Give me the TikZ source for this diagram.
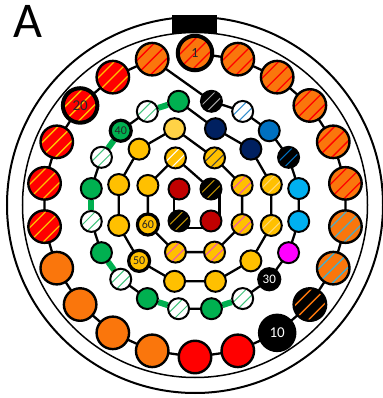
\documentclass[tikz,border=0pt]{standalone}
\usepackage{fontspec}
\setmainfont{Carlito}
\usepackage{xcolor}
\usepackage{tikz}
\usetikzlibrary{backgrounds}

\definecolor{pinorange}{RGB}{250,118,12}
\definecolor{pinred}{RGB}{255,0,0}
\definecolor{pindarkred}{RGB}{192,0,0}
\definecolor{pinyellow}{RGB}{255,192,0}
\definecolor{pinltyellow}{RGB}{255,210,70}
\definecolor{pinpale}{RGB}{255,218,120}
\definecolor{pingreen}{RGB}{0,176,80}
\definecolor{pinnavy}{RGB}{0,32,96}
\definecolor{pinblue}{RGB}{0,112,192}
\definecolor{pinsky}{RGB}{0,176,240}
\definecolor{pinmagenta}{RGB}{255,0,255}
\definecolor{pinteal}{RGB}{75,172,198}
\definecolor{pinpink}{RGB}{240,90,170}
\definecolor{pingold}{RGB}{190,145,0}

\tikzset{
  pn_out/.style={
    draw, circle, fill=pinorange, line width=2.4pt,
    minimum size=32.5pt, inner sep=0pt
  },
  pn_out_lbl/.style={
    pn_out, line width=4pt, minimum size=34.5pt,
    font=\fontsize{15}{15}\selectfont, text=black!85
  },
  pn_in/.style={
    draw, circle, line width=2pt,
    minimum size=21pt, inner sep=0pt
  },
  pn_in_lbl/.style={
    pn_in, line width=3.2pt, minimum size=21pt,
    font=\fontsize{12}{12}\selectfont, text=black!85
  },
  pn_str/.style={path picture={
    \foreach \s in {-28,-14,0,14,28}
      \draw[#1, line width=1.3pt]
        ([xshift=\s*1pt]path picture bounding box.south west) --
        ([xshift=\s*1pt]path picture bounding box.north east);
  }},
  pn_istr/.style={path picture={
    \foreach \s in {-17,-5.7,5.7,17}
      \draw[#1, line width=1pt]
        ([xshift=\s*1pt]path picture bounding box.south west) --
        ([xshift=\s*1pt]path picture bounding box.north east);
  }},
  pn_wire/.style={line width=2.3pt, line join=round},
  pn_pair/.style={line width=6pt, pingreen},
}

\begin{document}
\begin{tikzpicture}[x=1pt, y=1pt]
\useasboundingbox (-195,-193) rectangle (187,205);

% Housing
\draw[line width=2pt] (0,0) circle (188);
\draw[line width=1.5pt] (0,0) circle (172.5);
\fill[black] (-23,172) rectangle (22,190);
\node[font=\fontsize{50}{50}\selectfont] (lblA) at (-167,184) {A};

% Outer ring
\node[pn_out_lbl, pn_str=pinred, font=\fontsize{14}{14}\selectfont] (p1) at (90:152) {1};
\node[pn_out, pn_str=pinred]  (p2)  at (73.64:152)  {};
\node[pn_out, pn_str=pinred]  (p3)  at (57.27:152)  {};
\node[pn_out, pn_str=pinred]  (p4)  at (40.91:152)  {};
\node[pn_out, pn_str=pinred]  (p5)  at (24.55:152)  {};
\node[pn_out, pn_str=pinred]  (p6)  at (8.18:152)   {};
\node[pn_out, pn_str=pinteal] (p7)  at (-8.18:152)  {};
\node[pn_out, pn_str=pinteal] (p8)  at (-24.55:152) {};
\node[pn_out, fill=black, pn_str=pinorange] (p9) at (-40.91:152) {};
\node[pn_out_lbl, fill=black, text=white]    (p10) at (-57.27:152) {10};
\node[pn_out, fill=pinred]    (p11) at (-73.64:152)  {};
\node[pn_out, fill=pinred]    (p12) at (-90:152)     {};
\node[pn_out]                 (p13) at (-106.36:152) {};
\node[pn_out]                 (p14) at (-122.73:152) {};
\node[pn_out]                 (p15) at (-139.09:152) {};
\node[pn_out]                 (p16) at (-155.45:152) {};
\node[pn_out, fill=pinred, pn_str=pinyellow] (p17) at (-171.82:152) {};
\node[pn_out, fill=pinred, pn_str=pinyellow] (p18) at (171.82:152)  {};
\node[pn_out, fill=pinred, pn_str=pinyellow] (p19) at (155.45:152)  {};
\node[pn_out_lbl, fill=pinred, pn_str=pinyellow] (p20) at (139.09:152) {20};
\node[pn_out, fill=pinred, pn_str=pinyellow] (p21) at (122.73:152)  {};
\node[pn_out, pn_str=pinred]  (p22) at (106.36:152) {};

% Second ring
\node[pn_in, fill=black, pn_istr=gray!70]    (p23) at (81:105)  {};
\node[pn_in, fill=white, pn_istr=pinblue!80] (p24) at (63:105)  {};
\node[pn_in, fill=pinblue]                   (p25) at (45:105)  {};
\node[pn_in, fill=black, pn_istr=pinblue]    (p26) at (27:105)  {};
\node[pn_in, fill=pinsky]                    (p27) at (9:105)   {};
\node[pn_in, fill=pinsky]                    (p28) at (-9:105)  {};
\node[pn_in, fill=pinmagenta]                (p29) at (-27:105) {};
\node[pn_in_lbl, fill=black, text=white, font=\fontsize{13}{13}\selectfont] (p30) at (-45:105) {30};
\node[pn_in, fill=white, pn_istr=pingreen!75] (p31) at (-63:105)  {};
\node[pn_in, fill=pingreen]                   (p32) at (-81:105)  {};
\node[pn_in, fill=white, pn_istr=pingreen!75] (p33) at (-99:105)  {};
\node[pn_in, fill=pingreen]                   (p34) at (-117:105) {};
\node[pn_in, fill=white, pn_istr=pingreen!75] (p35) at (-135:105) {};
\node[pn_in, fill=pingreen]                   (p36) at (-153:105) {};
\node[pn_in, fill=white, pn_istr=pingreen!75] (p37) at (-171:105) {};
\node[pn_in, fill=pingreen]                   (p38) at (171:105)  {};
\node[pn_in, fill=white, pn_istr=pingreen!75] (p39) at (153:105)  {};
\node[pn_in_lbl, fill=pingreen]               (p40) at (135:105)  {40};
\node[pn_in, fill=white, pn_istr=pingreen!75] (p41) at (117:105)  {};
\node[pn_in, fill=pingreen]                   (p42) at (99:105)   {};

% Third ring
\node[pn_in, fill=pinnavy]   (p43) at (75:79)   {};
\node[pn_in, fill=pinnavy]   (p44) at (45:79)   {};
\node[pn_in, fill=pinyellow, pn_istr=pinpale] (p45) at (15:79)  {};
\node[pn_in, fill=pinyellow, pn_istr=pinpale] (p46) at (-15:79) {};
\node[pn_in, fill=pinyellow] (p47) at (-45:79)  {};
\node[pn_in, fill=pinyellow] (p48) at (-75:79)  {};
\node[pn_in, fill=pinyellow] (p49) at (-105:79) {};
\node[pn_in_lbl, fill=pinyellow] (p50) at (-135:79) {50};
\node[pn_in, fill=pinyellow] (p51) at (-165:79) {};
\node[pn_in, fill=pinyellow] (p52) at (165:79)  {};
\node[pn_in, fill=pinyellow] (p53) at (135:79)  {};
\node[pn_in, fill=pinltyellow] (p54) at (105:79) {};

% Fourth ring
\node[pn_in, fill=pinyellow, pn_istr=black!75] (p55) at (67.5:51)   {};
\node[pn_in, fill=pinyellow, pn_istr=pinpink]  (p56) at (22.5:51)   {};
\node[pn_in, fill=pinyellow, pn_istr=pinpink]  (p57) at (-22.5:51)  {};
\node[pn_in, fill=pinyellow, pn_istr=pinpink]  (p58) at (-67.5:51)  {};
\node[pn_in, fill=pinyellow, pn_istr=pinpink]  (p59) at (-112.5:51) {};
\node[pn_in_lbl, fill=pinyellow]               (p60) at (-157.5:51) {60};
\node[pn_in, fill=pinyellow]                   (p61) at (157.5:51)  {};
\node[pn_in, fill=pinyellow, pn_istr=white]    (p62) at (112.5:51)  {};

% Centre
\node[pn_in, fill=black, pn_istr=pingold] (p63) at (45:22.6)   {};
\node[pn_in, fill=pindarkred]             (p64) at (-45:22.6)  {};
\node[pn_in, fill=black, pn_istr=pingold] (p65) at (-135:22.6) {};
\node[pn_in, fill=pindarkred]             (p66) at (135:22.6)  {};

\begin{scope}[on background layer]
% Wiring
\draw[pn_wire] (p1.center) -- (p2.center) -- (p3.center) -- (p4.center) -- (p5.center)
  -- (p6.center) -- (p7.center) -- (p8.center) -- (p9.center) -- (p10.center)
  -- (p11.center) -- (p12.center) -- (p13.center) -- (p14.center) -- (p15.center)
  -- (p16.center) -- (p17.center) -- (p18.center) -- (p19.center) -- (p20.center)
  -- (p21.center) -- (p22.center) -- (p23.center);
\draw[pn_wire] (p23.center) -- (p24.center) -- (p25.center) -- (p26.center) -- (p27.center)
  -- (p28.center) -- (p29.center) -- (p30.center) -- (p31.center) -- (p32.center)
  -- (p33.center) -- (p34.center) -- (p35.center) -- (p36.center) -- (p37.center)
  -- (p38.center) -- (p39.center) -- (p40.center) -- (p41.center) -- (p42.center)
  -- (p43.center);
\draw[pn_wire] (p43.center) -- (p44.center) -- (p45.center) -- (p46.center) -- (p47.center)
  -- (p48.center) -- (p49.center) -- (p50.center) -- (p51.center) -- (p52.center)
  -- (p53.center) -- (p54.center) -- (p55.center);
\draw[pn_wire] (p55.center) -- (p56.center) -- (p57.center) -- (p58.center) -- (p59.center)
  -- (p60.center) -- (p61.center) -- (p62.center) -- (p63.center);
\draw[pn_wire] ([xshift=8.6pt]p63.center) -- ([xshift=8.6pt]p64.center);
\draw[pn_wire] ([yshift=-6.7pt]p64.center) -- ([yshift=-6.7pt]p65.center);
\draw[pn_wire] ([xshift=-5pt]p65.center) -- ([xshift=-5pt]p66.center);

% Twisted pairs
\draw[pn_pair] (p31) -- (p32);
\draw[pn_pair] (p33) -- (p34);
\draw[pn_pair] (p35) -- (p36);
\draw[pn_pair] (p37) -- (p38);
\draw[pn_pair] (p39) -- (p40);
\draw[pn_pair] (p41) -- (p42);
\end{scope}

\end{tikzpicture}
\end{document}
